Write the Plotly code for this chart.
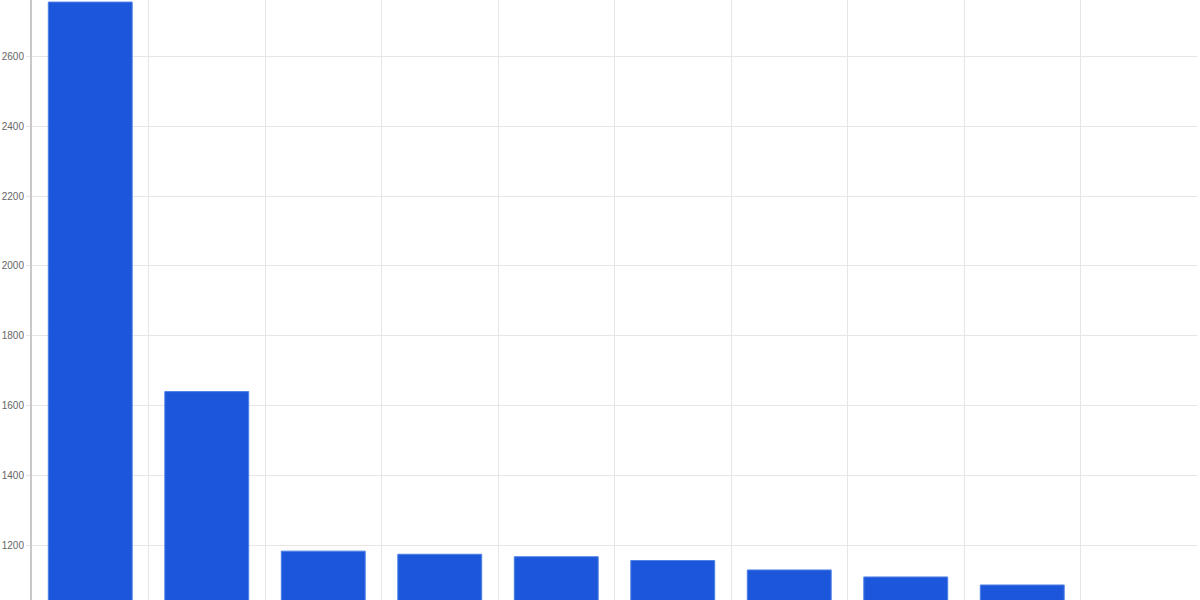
import plotly.graph_objects as go

# -- data (x labels not visible, last slot is empty)
categorias = ["c1", "c2", "c3", "c4", "c5", "c6", "c7", "c8", "c9", "c10"]
valores = [2756, 1640, 1183, 1174, 1167, 1156, 1129, 1109, 1086, None]
y_ticks = [1200, 1400, 1600, 1800, 2000, 2200, 2400, 2600]

fig = go.Figure()
fig.add_trace(go.Bar(
    x=categorias, y=valores,
    width=0.72,
    marker=dict(color="#1c57db", line=dict(color="#4d7fe6", width=1)),
    showlegend=False,
))

fig.update_layout(
    width=1200, height=600,
    margin=dict(l=32, r=3, t=0, b=0),
    paper_bgcolor="white", plot_bgcolor="white",
    font=dict(family="Liberation Sans, Arial, sans-serif", size=12, color="#666666"),
    bargap=0.28,
)
fig.update_xaxes(
    type="category", range=[-0.5, 9.5], automargin=False,
    tickson="boundaries", showticklabels=False, ticks="",
    showgrid=True, gridcolor="#e6e6e6", gridwidth=1,
    showline=False, zeroline=False,
)
fig.update_yaxes(
    range=[1043, 2762], tickvals=y_ticks, automargin=False,
    ticks="outside", ticklen=4, tickcolor="#e6e6e6",
    showgrid=True, gridcolor="#e6e6e6", gridwidth=1,
    showline=True, linecolor="#c8c8c8", linewidth=2,
    zeroline=False, tickfont=dict(size=10, color="#666666"),
)

# quitar el margen del body para que la figura empiece en (0, 0)
fig.write_html(
    "out.html",
    config={"displayModeBar": False},
    post_script="document.body.style.margin='0';",
)
